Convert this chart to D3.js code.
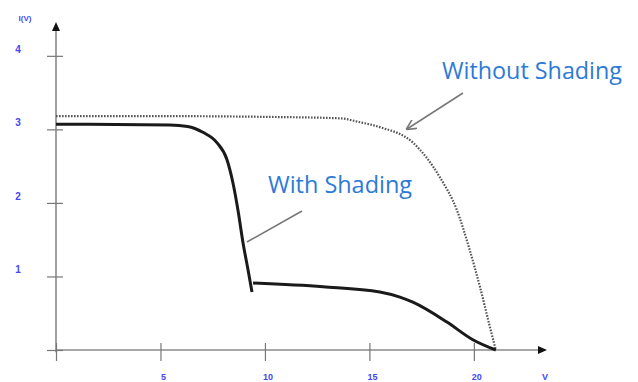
<!DOCTYPE html>
<html>
<head>
<meta charset="utf-8">
<script src="https://cdn.jsdelivr.net/npm/d3@7"></script>
<style>
    body { margin: 0; background: #fff; }
    .axis-line { stroke: #8a8a8a; stroke-width: 1.6; }
    .tick-label { fill: #4646f0; font-family: "Liberation Sans", sans-serif; font-size: 9px; font-weight: bold; }
    .note { fill: #2d7ad6; font-family: "Open Sans", sans-serif; }
</style>
</head>
<body>
<svg id="canvas" width="638" height="382"></svg>
<script>
// I-V curve without shading (volts, amps)
const withoutShading = [
    [0, 3.18], [5, 3.18], [10, 3.17], [13.6, 3.15], [14.5, 3.10], [15.5, 3.03],
    [17.08, 2.82], [18.37, 2.35], [19.19, 1.90], [19.8, 1.36], [20.29, 0.86],
    [20.77, 0.31], [21.05, 0]
];

// I-V curve with shading, upper part (before bypass step)
const withShadingA = [
    [0, 3.07], [5.45, 3.06], [6.3, 3.04], [7.03, 2.96], [7.70, 2.82], [8.18, 2.59],
    [8.47, 2.27], [8.71, 1.90], [8.95, 1.46], [9.19, 1.09], [9.38, 0.79]
];

// I-V curve with shading, lower part
const withShadingB = [
    [9.43, 0.91], [12.78, 0.86], [15.5, 0.79], [16.46, 0.72], [17.08, 0.65],
    [18.71, 0.38], [19.95, 0.14], [21.05, 0]
];

const xTicks = [0, 5, 10, 15, 20];
const yTicks = [0, 1, 2, 3, 4];
const xTickLabels = ["", "5", "10", "15", "20"];
const yTickLabels = ["", "1", "2", "3", "4"];

const svg = d3.select("#canvas");
const x = d3.scaleLinear().domain([0, 23.5]).range([56, 547]);
const y = d3.scaleLinear().domain([0, 4.46]).range([350, 22]);

/**
 * Draws both axes with ticks crossing the axis line.
 */
function drawAxes() {
    svg.append("line").attr("class", "axis-line")
        .attr("x1", x(0)).attr("x2", x(23.3))
        .attr("y1", y(0)).attr("y2", y(0));
    svg.append("line").attr("class", "axis-line")
        .attr("x1", x(0)).attr("x2", x(0))
        .attr("y1", y(-0.03)).attr("y2", y(4.35));

    // arrow heads
    svg.append("path")
        .attr("d", `M${x(23.5)},${y(0)} l-9,-4 l0,8 z`)
        .attr("fill", "#111");
    svg.append("path")
        .attr("d", `M${x(0)},${y(4.46)} l-4,9 l8,0 z`)
        .attr("fill", "#111");

    const xAxis = svg.append("g")
        .attr("transform", `translate(0,${y(0)})`)
        .call(d3.axisBottom(x).tickValues(xTicks).tickSize(0).tickFormat(""));
    xAxis.select(".domain").remove();
    xAxis.selectAll(".tick line")
        .attr("y1", -7).attr("y2", 11)
        .attr("stroke", "#777").attr("stroke-width", 1.2);

    const yAxis = svg.append("g")
        .attr("transform", `translate(${x(0)},0)`)
        .call(d3.axisLeft(y).tickValues(yTicks).tickSize(0).tickFormat(""));
    yAxis.select(".domain").remove();
    yAxis.selectAll(".tick line")
        .attr("x1", -9).attr("x2", 7)
        .attr("stroke", "#777").attr("stroke-width", 1.2);

    svg.selectAll(".xlab")
        .data(xTicks)
        .enter()
        .append("text")
        .attr("class", "tick-label")
        .attr("x", (d, i) => x(d) + 3)
        .attr("y", 380)
        .attr("text-anchor", "middle")
        .text((d, i) => xTickLabels[i]);
    svg.append("text").attr("class", "tick-label")
        .attr("x", 545).attr("y", 380).attr("text-anchor", "middle").text("V");

    svg.selectAll(".ylab")
        .data(yTicks)
        .enter()
        .append("text")
        .attr("class", "tick-label")
        .attr("x", 18)
        .attr("y", d => y(d) - 3)
        .attr("text-anchor", "middle")
        .style("font-size", "10px")
        .text((d, i) => yTickLabels[i]);
    svg.append("text").attr("class", "tick-label")
        .attr("x", 25).attr("y", 21).attr("text-anchor", "middle")
        .style("font-size", "8px").text("I(V)");
}

/**
 * Draws the I-V curves.
 */
function drawCurves() {
    const line = d3.line()
        .x(d => x(d[0]))
        .y(d => y(d[1]))
        .curve(d3.curveMonotoneX);

    svg.append("path")
        .attr("d", line(withoutShading))
        .attr("fill", "none")
        .attr("stroke", "#555")
        .attr("stroke-width", 2.2)
        .attr("stroke-dasharray", "1.6,1.4");

    [withShadingA, withShadingB].forEach(seg => {
        svg.append("path")
            .attr("d", line(seg))
            .attr("fill", "none")
            .attr("stroke", "#1a1a1a")
            .attr("stroke-width", 3)
            .attr("stroke-linejoin", "round");
    });
}

/**
 * Draws the labels and their pointer arrows.
 */
function drawNotes() {
    svg.append("defs").append("marker")
        .attr("id", "head")
        .attr("viewBox", "0 0 10 10")
        .attr("refX", 9).attr("refY", 5)
        .attr("markerWidth", 7).attr("markerHeight", 7)
        .attr("orient", "auto")
        .append("path")
        .attr("d", "M0,0 L10,5 L0,10")
        .attr("fill", "none")
        .attr("stroke", "#777")
        .attr("stroke-width", 1.5);

    svg.append("line")
        .attr("x1", 463).attr("y1", 93).attr("x2", 407).attr("y2", 129)
        .attr("stroke", "#777").attr("stroke-width", 1.5)
        .attr("marker-end", "url(#head)");
    svg.append("line")
        .attr("x1", 302).attr("y1", 211).attr("x2", 247).attr("y2", 242)
        .attr("stroke", "#777").attr("stroke-width", 1.5);

    svg.append("text").attr("class", "note")
        .attr("x", 442).attr("y", 79)
        .attr("textLength", 180).attr("lengthAdjust", "spacingAndGlyphs")
        .style("font-size", "23px")
        .text("Without Shading");
    svg.append("text").attr("class", "note")
        .attr("x", 268).attr("y", 193)
        .attr("textLength", 144).attr("lengthAdjust", "spacingAndGlyphs")
        .style("font-size", "23px")
        .text("With Shading");
}

drawAxes();
drawCurves();
drawNotes();
</script>
</body>
</html>
